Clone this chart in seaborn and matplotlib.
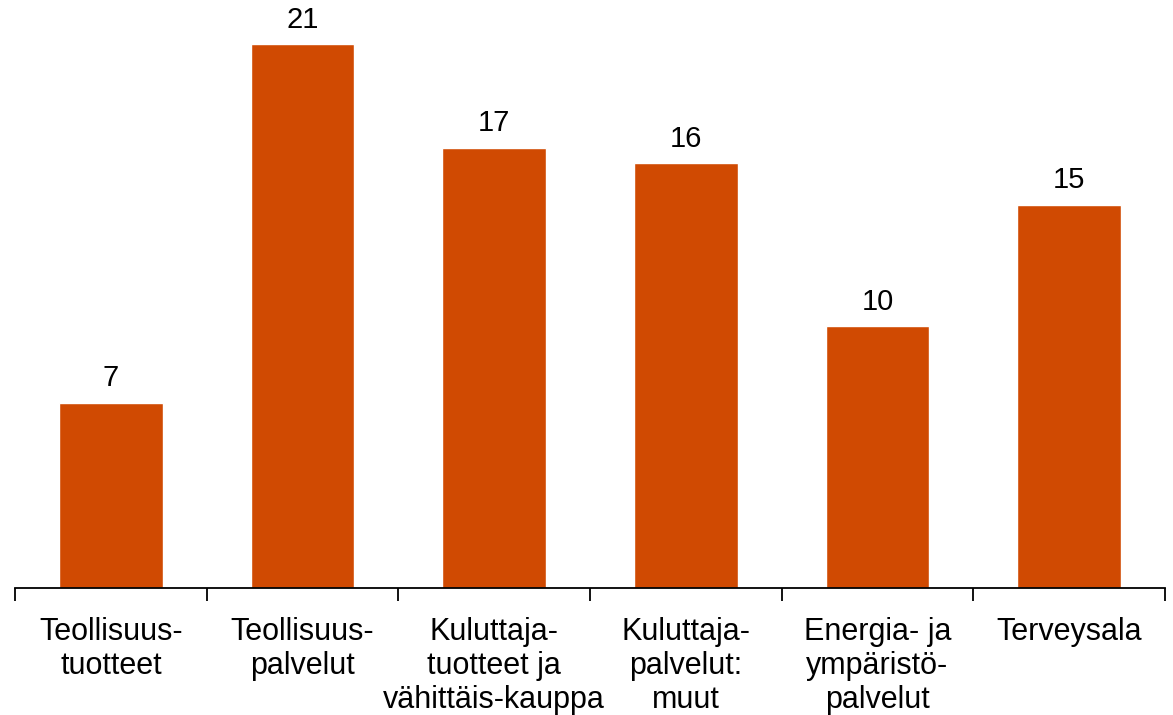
import numpy as np
import pandas as pd
import matplotlib
matplotlib.use('Agg')
import matplotlib.pyplot as plt
import seaborn as sns

categories = ['Teollisuus-\ntuotteet', 'Teollisuus-\npalvelut', 'Kuluttaja-\ntuotteet ja\nvähittäis-kauppa',
              'Kuluttaja-\npalvelut:\nmuut', 'Energia- ja\nympäristö-\npalvelut', 'Terveysala']
values = [7.15, 21.0, 17.0, 16.4, 10.1, 14.8]
value_labels = ['7', '21', '17', '16', '10', '15']

sns.set_theme(style='white')
plt.rcParams['font.family'] = ['Liberation Sans', 'DejaVu Sans']

df = pd.DataFrame({'cat': categories, 'val': values})

fig = plt.figure(figsize=(11.73, 7.15), dpi=100)
ax = fig.add_axes([15/1173, (715-588)/715, 1150/1173, 570/715])

sns.barplot(data=df, x='cat', y='val', color='#D04A02', saturation=1, width=0.54, ax=ax)

for i, v in enumerate(values):
    ax.text(i, v + 0.4, value_labels[i], ha='center', va='bottom', fontsize=21, color='black')

ax.set_xlim(-0.5, 5.5)
ax.set_ylim(0, 22)
ax.set_xlabel('')
ax.set_ylabel('')
ax.set_yticks([])
for s in ['top', 'right', 'left']:
    ax.spines[s].set_visible(False)
ax.spines['bottom'].set_color('black')
ax.spines['bottom'].set_linewidth(1.3)

ax.set_xticks(np.arange(-0.5, 6, 1))
ax.set_xticklabels([])
ax.tick_params(axis='x', which='major', direction='out', length=9, width=1.3, color='black', bottom=True)
ax.set_xticks(np.arange(0, 6), minor=True)
ax.set_xticklabels(categories, minor=True, fontsize=22, linespacing=1.17, color='black')
ax.tick_params(axis='x', which='minor', length=0, pad=21)
for lab in ax.get_xticklabels(minor=True):
    lab.set_verticalalignment('top')

fig.savefig('out.png', dpi=100)
